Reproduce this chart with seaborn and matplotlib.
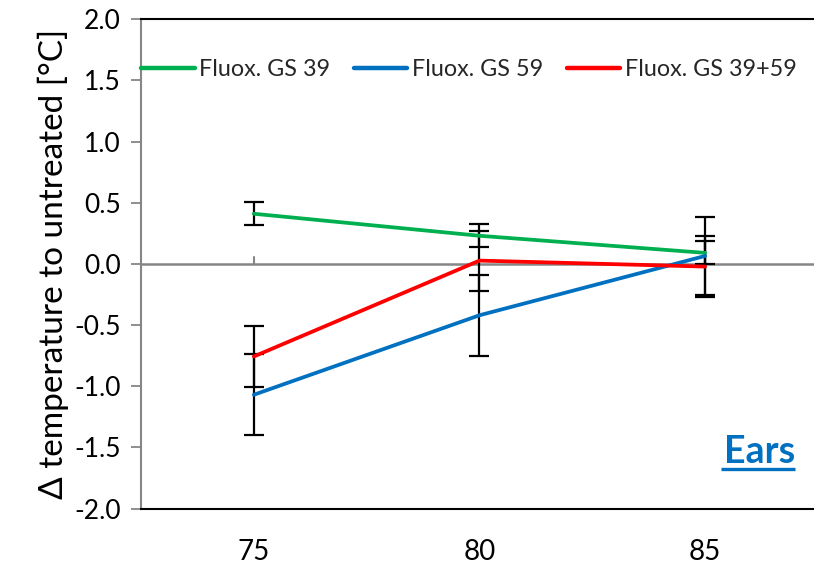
import matplotlib
matplotlib.use("Agg")
import matplotlib.pyplot as plt
import seaborn as sns
import pandas as pd

# Growth stage at assessment and mean temperature difference to the untreated plots
stages = ["75", "80", "85"]
gs39 = [0.41, 0.23, 0.09]
gs59 = [-1.07, -0.42, 0.065]
gs3959 = [-0.757, 0.027, -0.022]
err39 = [0.095, 0.095, 0.094]
err59 = [0.33, 0.33, 0.32]
err3959 = [0.25, 0.245, 0.25]

series_names = ["Fluox. GS 39", "Fluox. GS 59", "Fluox. GS 39+59"]
colors = ["#00B050", "#0070C0", "#FF0000"]
yticks = [-2.0, -1.5, -1.0, -0.5, 0.0, 0.5, 1.0, 1.5, 2.0]

df = pd.concat([
    pd.DataFrame({"stage": stages, "delta": vals, "err": errs, "treatment": name})
    for name, vals, errs in zip(series_names, [gs39, gs59, gs3959], [err39, err59, err3959])
])

sns.set_theme(style="white")
plt.rcParams["font.family"] = ["Lato", "DejaVu Sans"]

fig = plt.figure(figsize=(8.14, 5.64), dpi=100)
ax = fig.add_axes([0.1732, 0.0984, 0.8317, 0.8674])

# error bars behind the lines
for name in series_names:
    sub = df[df["treatment"] == name]
    ax.errorbar(sub["stage"], sub["delta"], yerr=sub["err"], fmt="none",
                ecolor="black", elinewidth=1.6, capsize=7, capthick=1.6, zorder=3)

sns.lineplot(data=df, x="stage", y="delta", hue="treatment", hue_order=series_names,
             palette=colors, linewidth=2.7, ax=ax, zorder=4, sort=False)

# zero reference line with category tick marks
ax.axhline(0, color="#868686", linewidth=1.8, zorder=2)
for s in stages:
    ax.plot([s, s], [0, 0.06], color="#868686", linewidth=1.5, zorder=2)

ax.set_xlim(-0.5, 2.5)
ax.set_ylim(-2.0, 2.0)
ax.set_yticks(yticks)
ax.set_yticklabels([f"{v:.1f}" for v in yticks])

for side in ["top", "bottom"]:
    ax.spines[side].set_color("black")
    ax.spines[side].set_linewidth(1.5)
ax.spines["left"].set_color("#868686")
ax.spines["left"].set_linewidth(1.5)
ax.spines["right"].set_visible(False)

ax.tick_params(axis="y", which="major", left=True, length=7.5, width=1.3,
               color="#868686", labelsize=19, pad=7, labelcolor="black")
ax.tick_params(axis="x", which="major", bottom=False, labelsize=20, pad=16,
               labelcolor="black")

ax.set_xlabel("")
ax.set_ylabel("Δ temperature to untreated [°C]", fontsize=24, color="black", labelpad=4)

leg = ax.legend(loc="center left", bbox_to_anchor=(0.0, 0.898), ncol=3, frameon=False,
                fontsize=16.8, handlelength=2.3, handletextpad=0.2, columnspacing=1.0,
                borderaxespad=0, borderpad=0)
for line in leg.get_lines():
    line.set_linewidth(3.2)

ax.text(0.966, 0.116, "Ears", transform=ax.transAxes, ha="right", va="center",
        fontsize=27, fontweight="bold", color="#0070C0")
ax.plot([0.857, 0.966], [0.080, 0.080], transform=ax.transAxes, color="#0070C0",
        linewidth=2.4, solid_capstyle="butt", clip_on=False)

fig.savefig("out.png", dpi=100)
